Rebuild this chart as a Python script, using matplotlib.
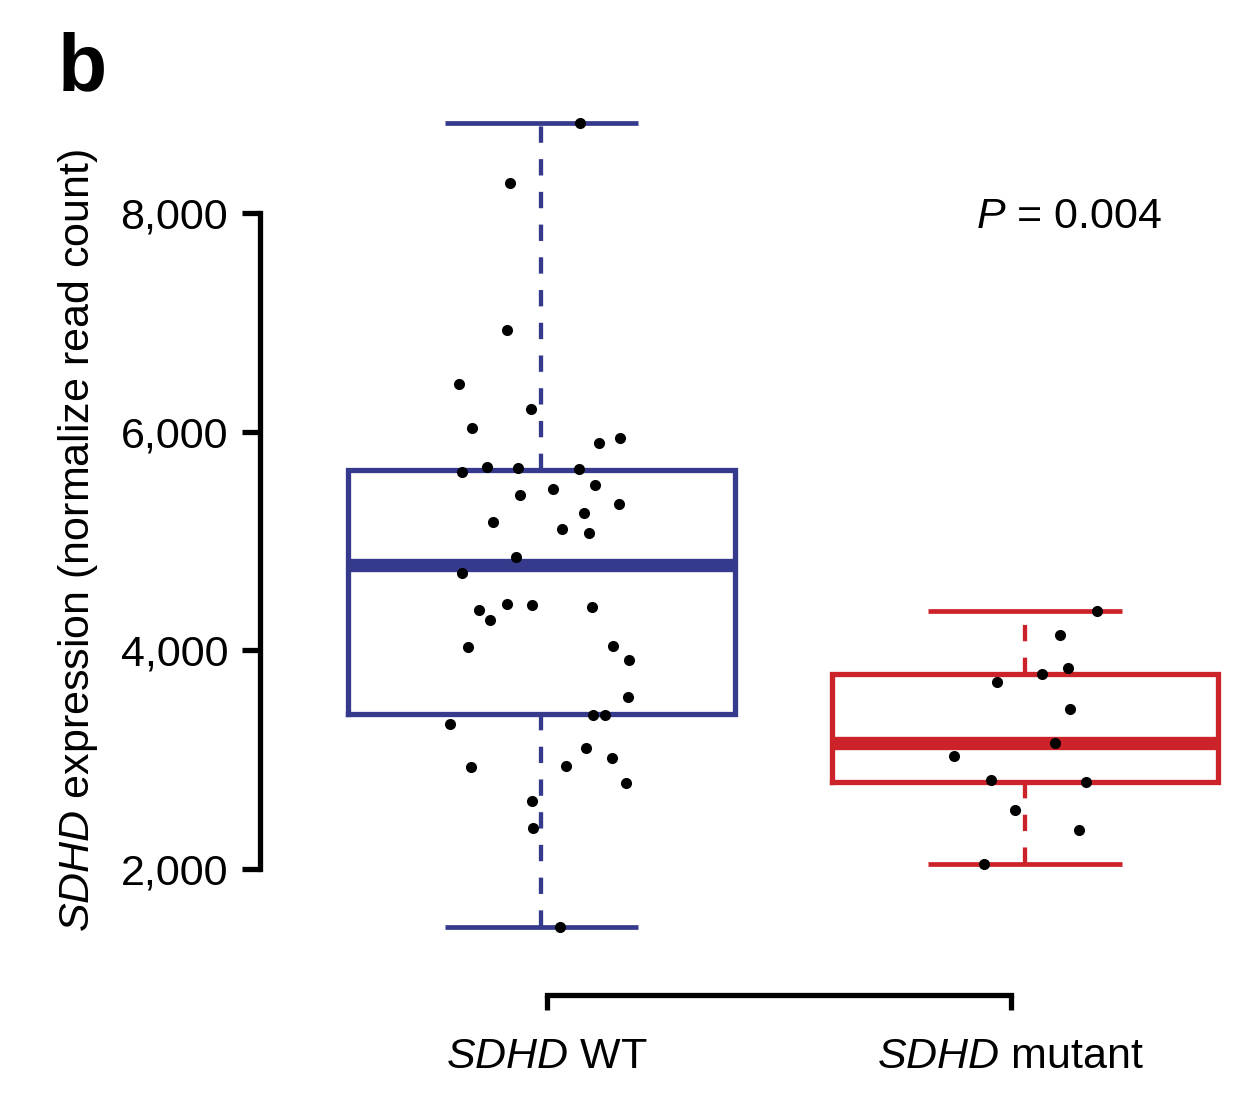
import matplotlib
matplotlib.use("Agg")
import matplotlib.pyplot as plt

plt.rcParams["font.family"] = ["Liberation Sans", "DejaVu Sans"]
plt.rcParams["mathtext.fontset"] = "custom"
plt.rcParams["mathtext.rm"] = "Liberation Sans"
plt.rcParams["mathtext.it"] = "Liberation Sans:italic"

# --- data ---
groups = [r"$\mathit{SDHD}$ WT", r"$\mathit{SDHD}$ mutant"]

wt_values = [8820, 8274, 6930, 6436, 6207, 6034, 5896, 5942, 5677, 5631,
             5668, 5659, 5476, 5512, 5421, 5338, 5256, 5174, 5110, 5073,
             4854, 4707, 4369, 4424, 4415, 4396, 4278, 4031, 4040, 3912,
             3573, 3409, 3409, 3326, 3107, 3015, 2933, 2942, 2787, 2622,
             2375, 1470]
wt_jitter = [0.080, -0.065, -0.071, -0.171, -0.022, -0.144, 0.119, 0.162, -0.113, -0.164,
             -0.049, 0.078, 0.024, 0.111, -0.044, 0.160, 0.088, -0.100, 0.042, 0.098,
             -0.053, -0.164, -0.129, -0.071, -0.020, 0.104, -0.107, -0.152, 0.148, 0.181,
             0.179, 0.107, 0.131, -0.189, 0.092, 0.146, -0.146, 0.051, 0.175, -0.020,
             -0.018, 0.038]

mut_values = [4360, 4140, 3838, 3784, 3710, 3463, 3153, 3034, 2814, 2797,
              2540, 2357, 2046]
mut_jitter = [0.149, 0.072, 0.089, 0.035, -0.058, 0.093, 0.062, -0.147, -0.070, 0.126,
              -0.021, 0.112, -0.085]

q1 = [3413, 2793]
medians = [4780, 3150]
q3 = [5652, 3781]
whisker_lo = [1470, 2046]
whisker_hi = [8820, 4360]

yticks = [2000, 4000, 6000, 8000]
ytick_labels = ["2,000", "4,000", "6,000", "8,000"]
p_label = r"$P$ = 0.004"
y_label = r"$\mathit{SDHD}$ expression (normalize read count)"

colors = ["#353a8c", "#cc2229"]
positions = [1, 2]
bracket = [1.011, 1.971]

fig = plt.figure(figsize=(12.42, 10.98), dpi=100)
ax = fig.add_axes([0.2093, 0.1289, 0.7794, 0.7867])

for i, pos in enumerate(positions):
    c = colors[i]
    stats = [dict(med=medians[i], q1=q1[i], q3=q3[i],
                  whislo=whisker_lo[i], whishi=whisker_hi[i], fliers=[])]
    ax.bxp(stats, positions=[pos], widths=0.8, capwidths=0.4, showfliers=False,
           boxprops=dict(color=c, lw=3.8, solid_joinstyle="miter"),
           medianprops=dict(color=c, lw=9.6, solid_capstyle="butt"),
           whiskerprops=dict(color=c, lw=3.1, linestyle=(0, (3.8, 3.8))),
           capprops=dict(color=c, lw=3.4, solid_capstyle="butt"))

for pos, vals, jit in [(positions[0], wt_values, wt_jitter),
                       (positions[1], mut_values, mut_jitter)]:
    ax.plot([pos + j for j in jit], vals, "o", color="black", ms=8,
            mec="black", mew=0, zorder=5)

ax.set_xlim(0.4178, 2.42)
ax.set_ylim(1200, 9100)

for s in ["top", "right"]:
    ax.spines[s].set_visible(False)
ax.spines["left"].set_bounds(2000, 8000)
ax.spines["left"].set_linewidth(3.8)
ax.spines["bottom"].set_position(("outward", 27.7))
ax.spines["bottom"].set_bounds(bracket[0], bracket[1])
ax.spines["bottom"].set_linewidth(3.8)

ax.set_yticks(yticks)
ax.set_yticklabels(ytick_labels)
ax.tick_params(axis="y", length=13, width=3.8, pad=10, labelsize=31)
ax.set_xticks(bracket)
ax.set_xticklabels(groups)
ax.tick_params(axis="x", length=11, width=3.8, pad=19, labelsize=31)

fig.text(78 / 1242, 1 - 540 / 1098, y_label, rotation=90, ha="center",
         va="center", fontsize=31)
fig.text(1162 / 1242, 1 - 228 / 1098, p_label, ha="right", va="baseline",
         fontsize=31)
fig.text(58 / 1242, 1 - 90 / 1098, "b", ha="left", va="baseline",
         fontsize=58, fontweight="bold")

fig.savefig("out.png", dpi=100)
